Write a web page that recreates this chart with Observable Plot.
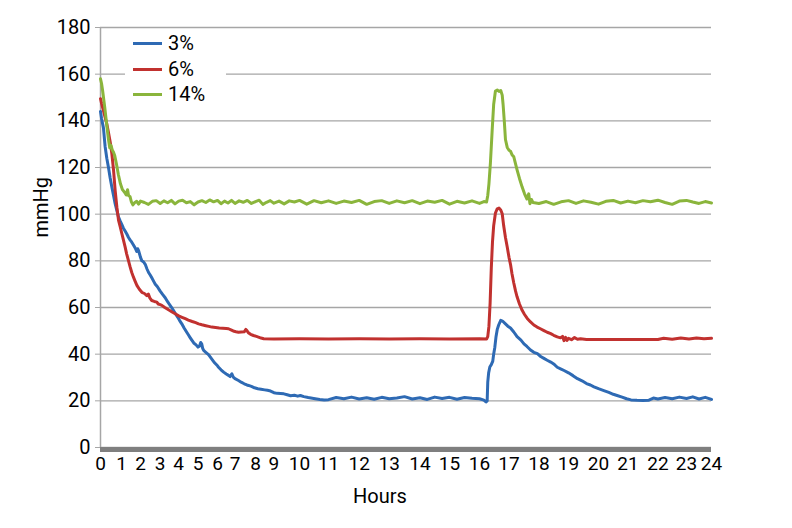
<!DOCTYPE html>
<html><head><meta charset="utf-8">
<script src="https://cdn.jsdelivr.net/npm/d3@7"></script>
<script src="https://cdn.jsdelivr.net/npm/@observablehq/plot@0.6"></script>
<style>
body{margin:0;background:#fff;}
#wrap{position:relative;width:792px;height:528px;overflow:hidden;}
.font{font-family:Roboto,'Liberation Sans',sans-serif;}
#legend{position:absolute;left:125px;top:30px;width:101px;height:78px;background:#fff;}
.row{position:absolute;left:8px;height:24px;display:flex;align-items:center;font-size:20px;color:#000;}
.row span.sw{display:inline-block;width:29px;height:3px;margin-right:6px;}
</style></head><body>
<div id="wrap" class="font"><div id="chart"></div><div id="legend"></div></div>
<script>
// ---- data ----
const seriesNames = ["3%", "6%", "14%"];
const seriesColors = ["#2e6ab4", "#c1312f", "#8ab53c"];
const hourTicks = [0,1,2,3,4,5,6,7,8,9,10,11,12,13,14,15,16,17,18,19,20,21,22,23,24];
const mmHgTicks = [0,20,40,60,80,100,120,140,160,180];

const hours3 = [0,0.05,0.14,0.22,0.3,0.38,0.46,0.54,0.62,0.7,0.78,0.86,0.94,1.02,1.1,1.19,1.28,1.37,1.45,1.54,1.63,1.72,1.8,1.85,1.9,2.0,2.07,2.16,2.24,2.33,2.41,2.5,2.58,2.67,2.75,2.85,3.0,3.14,3.27,3.4,3.5,3.6,3.72,3.85,3.95,4.05,4.16,4.28,4.4,4.5,4.6,4.68,4.78,4.9,5.0,5.08,5.14,5.19,5.24,5.29,5.4,5.54,5.7,5.85,6.0,6.06,6.2,6.35,6.5,6.63,6.72,6.82,6.9,7.0,7.17,7.3,7.45,7.58,7.66,7.8,7.95,8.13,8.3,8.5,8.65,8.82,9.0,9.13,9.26,9.39,9.52,9.65,9.8,9.93,10.03,10.15,10.3,10.49,10.7,10.85,11.0,11.25,11.5,11.75,12.0,12.25,12.5,12.75,13.0,13.25,13.5,13.75,14.0,14.25,14.5,14.75,15.0,15.25,15.5,15.75,16.0,16.15,16.22,16.26,16.28,16.31,16.35,16.4,16.45,16.48,16.52,16.56,16.6,16.65,16.72,16.78,16.88,16.96,17.05,17.16,17.27,17.4,17.5,17.6,17.72,17.83,17.95,18.06,18.17,18.28,18.4,18.5,18.62,18.75,18.85,19.0,19.15,19.3,19.45,19.6,19.73,19.85,20.0,20.18,20.35,20.5,20.63,20.8,20.95,21.1,21.3,21.5,21.7,21.85,22.0,22.25,22.5,22.75,23.0,23.25,23.5,23.75,24.0];
const mmHg3 = [144,141,137,129,124,120,115.5,111.6,108,104.4,101.5,98.7,97,95.5,94,92.8,91.5,90,89,88,86.8,85.5,84,85.2,84.4,81.5,80,79.5,78.5,76.5,75,73.8,72.6,71.2,70,69,67,65.5,64.2,62.5,61.3,60.2,58.7,57,55.8,54.4,53,51.2,49.6,48.3,47,46,44.8,44,43,43.5,45,44.4,42.5,41.6,40.8,39.8,38,36.3,35,34.4,33.3,32.3,31.5,30.9,30.4,31.6,30.2,29.5,28.7,28,27.3,26.8,26.6,26.2,25.6,25.2,25,24.7,24.5,24.2,23.5,23.2,23.1,23,22.6,22.2,22.4,22,22.3,21.8,21.4,21,20.6,20.4,20.5,21.4,20.9,21.6,20.8,21.3,20.7,21.5,20.9,21.2,21.8,20.8,21.3,20.6,21.6,21.0,21.5,20.7,21.4,21.1,20.9,20.3,19.5,20,28,32,34.5,35.5,37,40,43,47.5,50.5,52.5,54.5,54.2,53,52,51.2,49.5,47.5,46,44.4,43.3,41.8,40.8,40.2,39,38.2,37.4,36.6,35.8,34.4,33.6,33,32,30.8,29.5,28.6,27.4,26.8,26,25.2,24.4,23.6,22.8,22.3,21.6,20.9,20.4,20.2,20.1,20.3,21.2,20.8,21.4,20.9,21.6,21.0,21.7,20.8,21.5,20.6];

const hours6 = [0,0.05,0.14,0.22,0.3,0.38,0.46,0.54,0.62,0.7,0.78,0.86,0.94,1.02,1.1,1.19,1.27,1.37,1.45,1.54,1.63,1.72,1.81,1.94,2.07,2.2,2.32,2.4,2.48,2.57,2.7,2.83,2.9,3.0,3.09,3.25,3.45,3.62,3.81,4.0,4.17,4.34,4.5,4.7,4.88,5.03,5.2,5.4,5.55,5.71,5.9,6.1,6.3,6.5,6.63,6.8,6.95,7.05,7.17,7.3,7.45,7.53,7.58,7.65,7.76,7.9,8.05,8.16,8.3,8.45,9,10,11,12,13,14,15,16,16.24,16.28,16.32,16.36,16.4,16.44,16.48,16.54,16.6,16.66,16.72,16.77,16.82,16.88,16.94,17.0,17.05,17.1,17.16,17.22,17.27,17.35,17.44,17.52,17.61,17.72,17.83,17.94,18.05,18.17,18.28,18.4,18.5,18.62,18.73,18.8,18.85,18.9,18.95,19.0,19.1,19.2,19.3,19.4,19.6,20,21,22,22.2,22.5,22.8,23.1,23.4,23.7,24];
const mmHg6 = [149.5,147.5,144.4,141.5,138.7,135,131,126,119,110,103,97.3,94.5,91.6,89,86,83,80,77.5,75,73,71.2,69.5,67.8,66.5,66,65.1,65.8,64,63,62.6,62.3,61.5,61.2,60.9,60,59,58.2,57.3,56.4,55.8,55.2,54.6,54,53.5,53,52.6,52.2,51.9,51.6,51.4,51.2,51.1,51,50.9,50.3,49.8,49.6,49.4,49.5,49.6,50.6,50.1,49.2,48.5,48,47.6,47.3,46.9,46.6,46.5,46.6,46.5,46.6,46.5,46.6,46.5,46.6,46.5,47.5,52,62,77,88,95,100.5,102.3,102.6,101.8,100.2,95,90,85.9,81.5,78.5,74.5,70.5,67,64.6,61.5,58.8,57,55.3,53.8,52.5,51.6,50.9,50.1,49.4,48.8,48.1,47.4,47,47.6,45.8,47.2,45.9,46.8,46.2,47.1,46.4,46.6,46.3,46.3,46.3,46.3,46.8,46.4,46.9,46.5,46.9,46.6,46.8];

const hours14 = [0,0.05,0.1,0.2,0.3,0.38,0.44,0.5,0.56,0.62,0.68,0.76,0.85,0.95,1.05,1.15,1.25,1.32,1.37,1.45,1.52,1.6,1.7,1.8,1.9,2.0,2.2,2.4,2.6,2.8,3.0,3.2,3.4,3.6,3.8,4.0,4.2,4.4,4.6,4.8,5.0,5.2,5.4,5.6,5.8,6.0,6.2,6.4,6.6,6.8,7.0,7.2,7.4,7.6,7.8,8.0,8.2,8.4,8.6,8.8,9.0,9.2,9.4,9.6,9.8,10.0,10.25,10.5,10.75,11.0,11.25,11.5,11.75,12.0,12.25,12.5,12.75,13.0,13.25,13.5,13.75,14.0,14.25,14.5,14.75,15.0,15.25,15.5,15.75,16.0,16.15,16.24,16.28,16.32,16.37,16.43,16.48,16.54,16.6,16.66,16.72,16.77,16.8,16.84,16.88,16.94,17.0,17.05,17.1,17.16,17.2,17.27,17.35,17.44,17.52,17.6,17.66,17.7,17.75,17.8,18.0,18.25,18.5,18.75,19.0,19.25,19.5,19.75,20.0,20.25,20.5,20.75,21.0,21.25,21.5,21.75,22.0,22.25,22.5,22.75,23.0,23.25,23.5,23.75,24.0];
const mmHg14 = [158,156,153,146,138,132,128.5,129.5,127.5,126.5,125,121.5,117,113,110.5,109.5,108.2,110.5,108,107.5,105.3,104,105,105.5,104.3,105.6,105,104.2,105.5,105.8,104.6,105.7,104.9,105.9,104.4,105.6,106,104.9,105.4,104,105.2,105.8,105,106.1,105.3,105.9,104.5,105.6,104.8,105.9,104.6,105.7,105.1,105.9,104.6,105.4,106,104.2,105.1,105.8,104.7,105.6,104.4,105.7,105.2,105.9,104.3,105.8,104.9,105.7,104.6,105.6,105,105.9,104.2,105.4,105.8,104.6,105.7,104.9,105.8,104.5,105.6,105.1,105.9,104.3,105.5,104.8,105.7,104.6,105.4,105.2,108,113,122,136,147,152.8,153.2,152.6,153,151,147,140,132,128.6,127.4,127,125.5,124.6,122.5,119,115.3,111.6,108.7,106.5,108.7,104.5,106.3,105,104.6,105.4,104.2,105.3,105.8,104.6,105.7,105.1,104.3,105.5,105.9,104.8,105.6,104.9,105.8,105.3,106,105,104.2,105.6,105.9,105.2,104.6,105.4,104.8];

// ---- layout: where each hour label sits along the axis (px) ----
const hourPx = [100,121,140,159.7,178.2,197.5,217,234.5,255,273.4,299,328,358.7,388.7,419.4,449,479,508.5,538.4,568,598,627.5,657.4,686,711];
const warp = d3.scaleLinear().domain(hourTicks).range(hourPx);

const rows = [
  ...hours3.map((t,i)=>({s:"3%", t, v:mmHg3[i]})),
  ...hours6.map((t,i)=>({s:"6%", t, v:mmHg6[i]})),
  ...hours14.map((t,i)=>({s:"14%", t, v:mmHg14[i]}))
];

const FONT = "Roboto,'Liberation Sans',sans-serif";

const chart = Plot.plot({
  width: 792, height: 528,
  marginLeft: 100, marginRight: 81, marginTop: 27, marginBottom: 81,
  style: {fontFamily: FONT, fontSize: "20px", color: "#000", background: "#fff"},
  x: {transform: warp, domain: [100, 711], range: [100, 711], axis: null},
  y: {domain: [0, 180]},
  color: {domain: seriesNames, range: seriesColors},
  marks: [
    Plot.gridY(mmHgTicks, {stroke: "#a6a6a6", strokeOpacity: 1, strokeWidth: 1.4}),
    Plot.ruleX([0], {stroke: "#a6a6a6", strokeWidth: 1.5}),
    Plot.axisY({ticks: mmHgTicks, tickSize: 5, tickPadding: 5, stroke: "#a6a6a6", fill: "#000", label: null, fontSize: 20}),
    Plot.text(hourTicks, {x: d => d, frameAnchor: "bottom", dy: 22, text: d => String(d), fontSize: 19, fill: "#000", letterSpacing: "-0.6px"}),
    Plot.line(rows, {x: "t", y: "v", z: "s", stroke: "s", strokeWidth: 3, strokeLinejoin: "round", curve: "linear"}),
    Plot.ruleY([0], {stroke: "#7f7f7f", strokeWidth: 5, dy: 2}),
    Plot.text(["Hours"], {frameAnchor: "bottom", dx: -26, dy: 55, fontSize: 20, fill: "#000"}),
    Plot.text(["mmHg"], {frameAnchor: "left", rotate: -90, dx: -59, fontSize: 20, fill: "#000"})
  ]
});
document.getElementById("chart").appendChild(chart);

// legend
const legend = document.getElementById("legend");
const rowCenters = [13, 39, 64];
seriesNames.forEach((name, i) => {
  const r = document.createElement("div");
  r.className = "row";
  r.style.top = (rowCenters[i] - 12) + "px";
  r.innerHTML = `<span class="sw" style="background:${seriesColors[i]}"></span><span>${name}</span>`;
  legend.appendChild(r);
});
</script>
</body></html>
